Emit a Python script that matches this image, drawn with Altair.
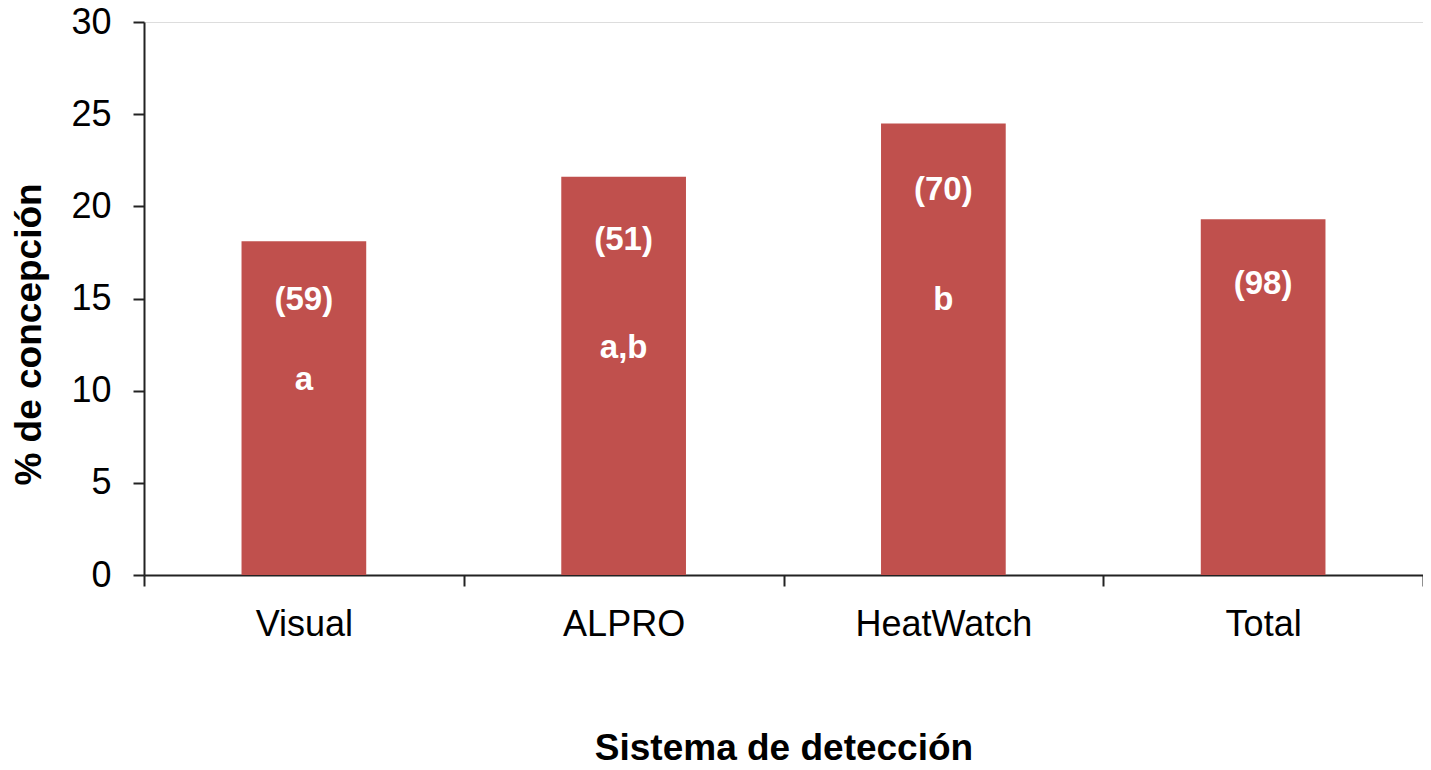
import altair as alt
import pandas as pd

categories = ["Visual", "ALPRO", "HeatWatch", "Total"]
conception = [18.1, 21.6, 24.5, 19.3]

n_labels = ["(59)", "(51)", "(70)", "(98)"]
n_label_y = [14.9, 18.2, 20.9, 15.8]

letter_cats = ["Visual", "ALPRO", "HeatWatch"]
letters = ["a", "a,b", "b"]
letter_y = [10.6, 12.3, 14.9]

FONT = "Liberation Sans"
BAR_COLOR = "#C0504D"

bars_df = pd.DataFrame({"cat": categories, "val": conception})
ann_df = pd.DataFrame({
    "cat": categories + letter_cats,
    "y": n_label_y + letter_y,
    "txt": n_labels + letters,
})

x_enc = alt.X(
    "cat:N",
    sort=categories,
    scale=alt.Scale(paddingInner=0, paddingOuter=0),
    axis=alt.Axis(
        title="Sistema de detección",
        labelAngle=0,
        labelFont=FONT,
        labelFontSize=36,
        labelColor="black",
        labelPadding=21,
        titleFont=FONT,
        titleFontSize=37,
        titleFontWeight="bold",
        titleColor="black",
        titlePadding=88,
        tickBand="extent",
        tickSize=11,
        tickWidth=2,
        tickColor="#222222",
        domainColor="#222222",
        domainWidth=2,
        grid=False,
    ),
)

bars = alt.Chart(bars_df).mark_bar(
    color=BAR_COLOR, width=alt.RelativeBandSize(0.39)
).encode(
    x=x_enc,
    y=alt.Y(
        "val:Q",
        scale=alt.Scale(domain=[0, 30], nice=False, zero=True),
        axis=alt.Axis(
            title="% de concepción",
            values=[0, 5, 10, 15, 20, 25, 30],
            labelFont=FONT,
            labelFontSize=36,
            labelColor="black",
            labelPadding=22,
            titleFont=FONT,
            titleFontSize=37,
            titleFontWeight="bold",
            titleColor="black",
            titlePadding=22,
            titleY=312,
            tickSize=11,
            tickWidth=2,
            tickColor="#222222",
            domainColor="#222222",
            domainWidth=2,
            grid=False,
        ),
    ),
)

texts = alt.Chart(ann_df).mark_text(
    font=FONT, fontSize=33, fontWeight="bold", color="white", baseline="middle"
).encode(
    x=alt.X("cat:N", sort=categories),
    y=alt.Y("y:Q"),
    text="txt:N",
)

chart = alt.layer(bars, texts).properties(
    width=1279,
    height=553,
    autosize=alt.AutoSizeParams(type="none"),
    padding={"left": 136, "top": 14, "right": 0, "bottom": 187},
).configure_view(stroke=None).configure(background="white")

chart.save("out.html", embed_options={"renderer": "svg", "actions": False})
